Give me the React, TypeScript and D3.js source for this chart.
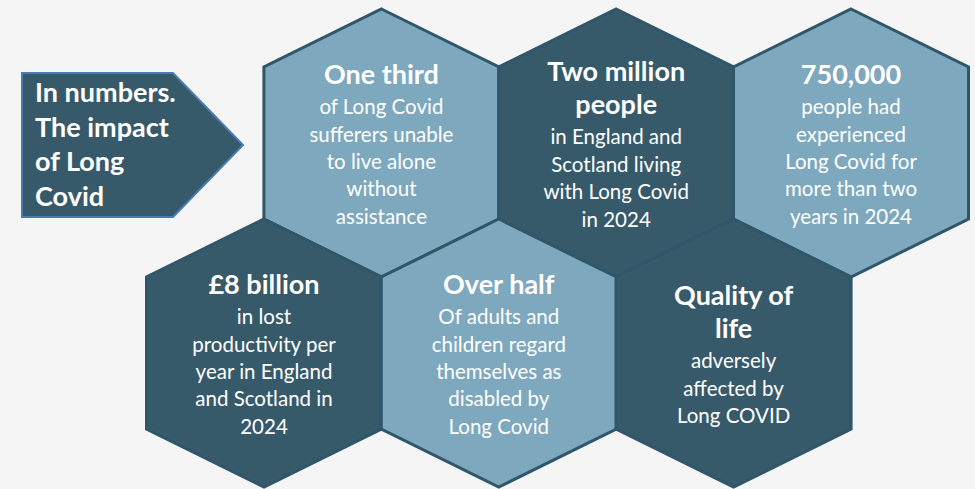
import React from "react";
import * as d3 from "d3";

const W = 975;
const H = 489;

// Card content
const cardTitles: string[][] = [
  ["One third"],
  ["Two million", "people"],
  ["750,000"],
  ["£8 billion"],
  ["Over half"],
  ["Quality of", "life"],
];
const cardBodies: string[][] = [
  ["of Long Covid", "sufferers unable", "to live alone", "without", "assistance"],
  ["in England and", "Scotland living", "with Long Covid", "in 2024"],
  ["people had", "experienced", "Long Covid for", "more than two", "years in 2024"],
  ["in lost", "productivity per", "year in England", "and Scotland in", "2024"],
  ["Of adults and", "children regard", "themselves as", "disabled by", "Long Covid"],
  ["adversely", "affected by", "Long COVID"],
];
const cardRows = [0, 0, 0, 1, 1, 1];
const cardHalfCols = [1, 3, 5, 0, 2, 4];
const cardTones = ["light", "dark", "light", "dark", "light", "dark"];

const headingLines = ["In numbers.", "The impact", "of Long", "Covid"];

const DARK = "#375a6a";
const LIGHT = "#7ea8bd";
const EDGE = "#30566a";
const BG = "#f5f5f5";
const FONT = "Lato, 'Open Sans', sans-serif";

export default function App() {
  const xScale = d3.scaleLinear().domain([0, 5]).range([264, 851]);
  const yScale = d3.scaleLinear().domain([0, 1]).range([143, 353]);
  const hw = 117.5;
  const side = 76;
  const tip = 134;
  const line = d3.line<[number, number]>().curve(d3.curveLinearClosed);

  const hexPath = (cx: number, cy: number) =>
    line([
      [cx, cy - tip],
      [cx + hw, cy - side],
      [cx + hw, cy + side],
      [cx, cy + tip],
      [cx - hw, cy + side],
      [cx - hw, cy - side],
    ]);

  const titleLH = 33;
  const gapTB = 30;
  const bodyLH = 27.4;

  const arrow = line([
    [22, 73],
    [173, 73],
    [243, 145],
    [173, 217],
    [22, 217],
  ]);

  return (
    <svg width={W} height={H} style={{ position: "absolute", left: 0, top: 0, background: BG }}>
      <rect x={0} y={0} width={W} height={H} fill={BG} />
      <path d={arrow || ""} fill={DARK} stroke="#4a7cb3" strokeWidth={2} />
      {headingLines.map((t, i) => (
        <text
          key={t}
          x={35}
          y={102 + i * 34.6}
          fill="#ffffff"
          fontFamily={FONT}
          fontWeight={700}
          fontSize={27}
        >
          {t}
        </text>
      ))}
      {cardTitles.map((titles, i) => {
        const cx = xScale(cardHalfCols[i]);
        const cy = yScale(cardRows[i]);
        const bodies = cardBodies[i];
        const span = (titles.length - 1) * titleLH + gapTB + (bodies.length - 1) * bodyLH;
        const y0 = cy + 11 - span / 2;
        return (
          <g key={i}>
            <path
              d={hexPath(cx, cy) || ""}
              fill={cardTones[i] === "dark" ? DARK : LIGHT}
              stroke={EDGE}
              strokeWidth={3}
              strokeLinejoin="miter"
            />
            {titles.map((t, j) => (
              <text
                key={"t" + j}
                x={cx}
                y={y0 + j * titleLH}
                textAnchor="middle"
                fill="#ffffff"
                fontFamily={FONT}
                fontWeight={700}
                fontSize={27}
              >
                {t}
              </text>
            ))}
            {bodies.map((t, j) => (
              <text
                key={"b" + j}
                x={cx}
                y={y0 + (titles.length - 1) * titleLH + gapTB + j * bodyLH}
                textAnchor="middle"
                fill="#ffffff"
                fontFamily={FONT}
                fontWeight={400}
                fontSize={20.5}
              >
                {t}
              </text>
            ))}
          </g>
        );
      })}
    </svg>
  );
}
